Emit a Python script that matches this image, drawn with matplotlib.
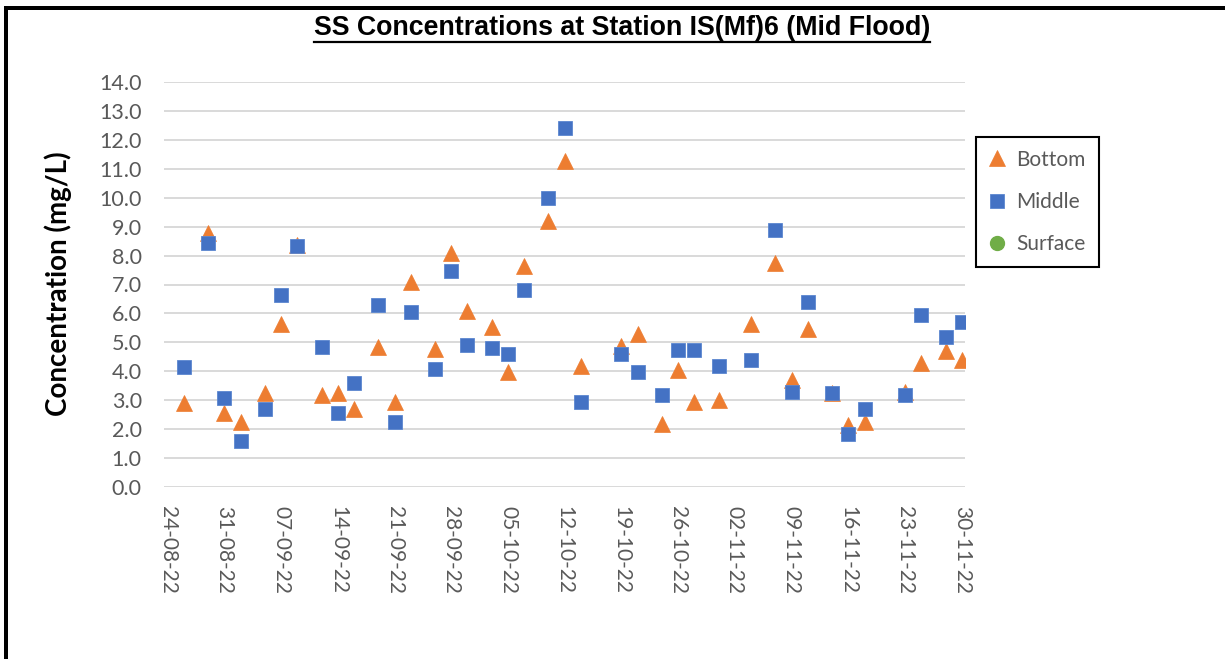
import matplotlib
matplotlib.use("Agg")
import matplotlib.pyplot as plt
import matplotlib.dates as mdates
from matplotlib.lines import Line2D
from matplotlib.patches import Rectangle
import pandas as pd
import numpy as np

# ---------------- data ----------------
dates = ["2022-08-26", "2022-08-29", "2022-08-31", "2022-09-02", "2022-09-05",
         "2022-09-07", "2022-09-09", "2022-09-12", "2022-09-14", "2022-09-16",
         "2022-09-19", "2022-09-21", "2022-09-23", "2022-09-26", "2022-09-28",
         "2022-09-30", "2022-10-03", "2022-10-05", "2022-10-07", "2022-10-10",
         "2022-10-12", "2022-10-14", "2022-10-19", "2022-10-21", "2022-10-24",
         "2022-10-26", "2022-10-28", "2022-10-31", "2022-11-04", "2022-11-07",
         "2022-11-09", "2022-11-11", "2022-11-14", "2022-11-16", "2022-11-18",
         "2022-11-23", "2022-11-25", "2022-11-28", "2022-11-30"]

bottom = [2.89, 8.77, 2.55, 2.25, 3.24, 5.63, 8.38, 3.18, 3.24, 2.68,
          4.83, 2.94, 7.09, 4.78, 8.09, 6.07, 5.52, 3.98, 7.63, 9.18,
          11.28, 4.18, 4.89, 5.29, 2.18, 4.03, 2.94, 3.02, 5.62, 7.73,
          3.70, 5.47, 3.24, 2.13, 2.26, 3.28, 4.28, 4.70, 4.39]

middle = [4.14, 8.43, 3.09, 1.59, 2.68, 6.65, 8.34, 4.84, 2.55, 3.61,
          6.28, 2.25, 6.05, 4.09, 7.45, 4.90, 4.79, 4.60, 6.80, 10.00,
          12.40, 2.95, 4.60, 3.99, 3.19, 4.74, 4.74, 4.18, 4.40, 8.89,
          3.28, 6.39, 3.24, 1.84, 2.68, 3.19, 5.95, 5.20, 5.70]

surface_dates = []
surface = []

tick_dates = ["2022-08-24", "2022-08-31", "2022-09-07", "2022-09-14", "2022-09-21",
              "2022-09-28", "2022-10-05", "2022-10-12", "2022-10-19", "2022-10-26",
              "2022-11-02", "2022-11-09", "2022-11-16", "2022-11-23", "2022-11-30"]
y_ticks = [0.0, 1.0, 2.0, 3.0, 4.0, 5.0, 6.0, 7.0, 8.0, 9.0, 10.0, 11.0, 12.0, 13.0, 14.0]

title = "SS Concentrations at Station IS(Mf)6 (Mid Flood)"
ylabel = "Concentration (mg/L)"

# ---------------- figure ----------------
W, H = 1225, 659
fig = plt.figure(figsize=(W / 100, H / 100), dpi=100)
fig.patch.set_facecolor("white")

ax = fig.add_axes([164 / W, 1 - 487 / H, (965 - 164) / W, (487 - 82) / H])

x = pd.to_datetime(dates)
xs = pd.to_datetime(surface_dates)

ax.plot(x, bottom, linestyle="none", marker="^", markersize=11,
        color="#ED7D31", markeredgecolor="#ED7D31", markeredgewidth=0.5, label="Bottom", zorder=3)
ax.plot(x, middle, linestyle="none", marker="s", markersize=10.7,
        color="#4472C4", markeredgecolor="#5B86D0", markeredgewidth=0.6, label="Middle", zorder=4)
ax.plot(xs, surface, linestyle="none", marker="o", markersize=10,
        color="#70AD47", markeredgecolor="#70AD47", label="Surface", zorder=5)

t0 = pd.Timestamp(tick_dates[0])
t1 = pd.Timestamp(tick_dates[-1])
ax.set_xlim(mdates.date2num(t0) - 0.45, mdates.date2num(t1) + 0.4)
ax.set_ylim(0, 14)

ax.set_xticks(pd.to_datetime(tick_dates))
ax.xaxis.set_major_formatter(mdates.DateFormatter("%d-%m-%y"))
ax.set_yticks(y_ticks)
ax.set_yticklabels([f"{v:.1f}" for v in y_ticks])

for s in ax.spines.values():
    s.set_visible(False)
ax.grid(axis="y", color="#D9D9D9", linewidth=1.4)
ax.set_axisbelow(True)
ax.tick_params(axis="both", length=0)
ax.tick_params(axis="y", pad=16, labelsize=15.5, labelcolor="#595959")
ax.tick_params(axis="x", pad=14, labelsize=15, labelcolor="#595959")
for lab in ax.get_yticklabels():
    lab.set_fontfamily("Lato")
for lab in ax.get_xticklabels():
    lab.set_fontfamily("Lato")
    lab.set_rotation(-90)
    lab.set_ha("center")
    lab.set_va("top")

fig.text(58 / W, 1 - 284 / H, ylabel, rotation=90, ha="center", va="center",
         fontsize=20, fontweight="bold", family="Lato", color="black")

ttl = fig.text(622 / W, 1 - 28 / H, title, ha="center", va="center",
               fontsize=19.3, fontweight="bold",
               family="Liberation Sans", color="black")

leg = ax.legend(loc="upper left", bbox_to_anchor=(976 / W, 1 - 137 / H),
                bbox_transform=fig.transFigure, frameon=True, fancybox=False,
                edgecolor="black", framealpha=1, borderpad=0.6, borderaxespad=0,
                labelspacing=1.08, handlelength=0.85, handletextpad=0.5,
                prop={"family": "Lato", "size": 15})
leg.get_frame().set_linewidth(1.5)
for t in leg.get_texts():
    t.set_color("#595959")

# outer frame (top and left edges)
fig.add_artist(Rectangle((4 / W, 1 - 10 / H), (W - 4) / W, 4 / H,
                         transform=fig.transFigure, facecolor="black", edgecolor="none"))
fig.add_artist(Rectangle((4 / W, 0), 4 / W, 1 - 6 / H,
                         transform=fig.transFigure, facecolor="black", edgecolor="none"))

# underline of title
fig.canvas.draw()
bb = ttl.get_window_extent()
uy = (bb.y0 - 1) / H
fig.add_artist(Line2D([bb.x0 / W, bb.x1 / W], [uy, uy], transform=fig.transFigure,
                      color="black", linewidth=1.6))

fig.savefig("out.png", dpi=100, facecolor="white")
